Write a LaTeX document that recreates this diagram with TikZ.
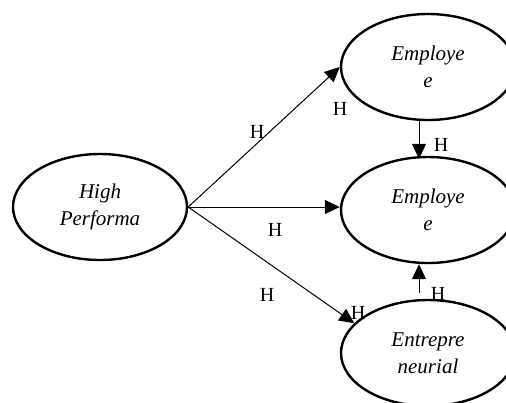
\documentclass[tikz,border=0pt]{standalone}
\usepackage{fontspec}
\setmainfont{Liberation Serif}
\usetikzlibrary{arrows.meta,shapes.geometric}
\begin{document}
\begin{tikzpicture}[x=1pt,y=-1pt,
  oval/.style={draw,line width=2.4pt,ellipse,minimum width=174pt,minimum height=106pt,inner sep=0pt,align=center,font=\fontsize{21}{27}\selectfont\itshape},
  conn/.style={line width=1pt,-{Triangle[length=15pt,width=14pt]}},
  lab/.style={inner sep=0pt,font=\fontsize{20}{24}\selectfont}]
\useasboundingbox (0,0) rectangle (506,402);
\clip (0,0) rectangle (506,402);
\fill[white] (0,0) rectangle (506,402);
\node[oval] (high) at (100,207) {High\\Performa};
\node[oval] (e1) at (428,67) {Employe\\e};
\node[oval] (e2) at (428,210) {Employe\\e};
\node[oval] (ent) at (428,353) {Entrepre\\neurial};
\coordinate (upstart) at (419,293);
\draw[conn] (high.east) -- (e1.west);
\draw[conn] (high.east) -- (high.east -| e2.west);
\draw[conn] (high.east) -- (ent.158);
\draw[conn] ([xshift=-9pt]e1.south) -- ([xshift=-9pt,yshift=-3pt]e2.north);
\draw[conn] (upstart) -- (upstart |- e2.south);
\node[lab] (h1) at (257,132) {H};
\node[lab] (h2) at (340,109) {H};
\node[lab] (h3) at (441,145) {H};
\node[lab] (h4) at (275,230) {H};
\node[lab] (h5) at (267,295) {H};
\node[lab] (h6) at (358,313) {H};
\node[lab] (h7) at (438,294) {H};
\end{tikzpicture}
\end{document}
